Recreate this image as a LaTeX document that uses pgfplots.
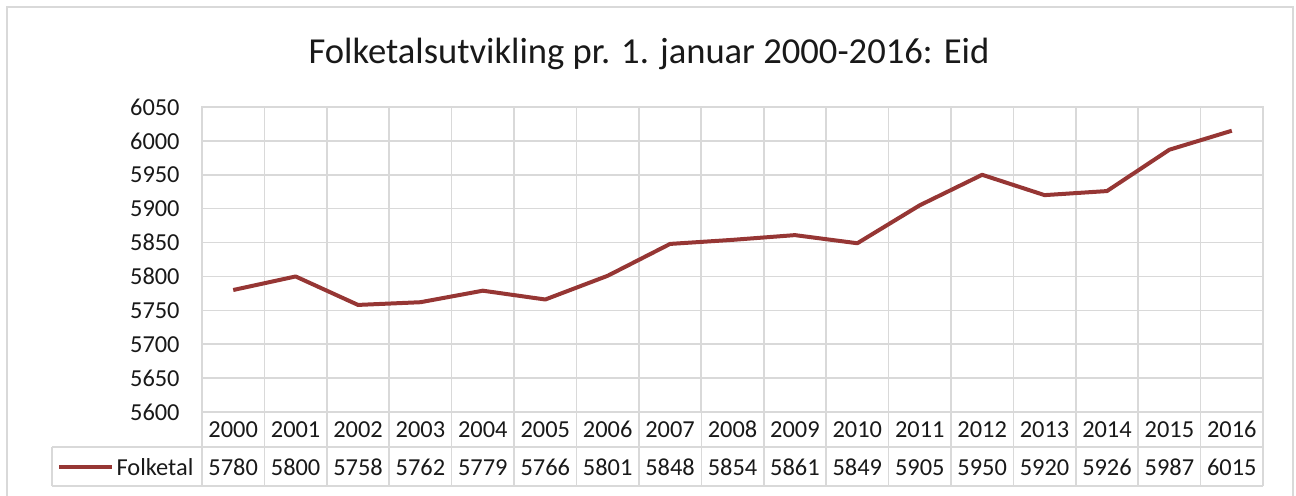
\documentclass[border=0pt]{standalone}
\usepackage{pgfplots}
\pgfplotsset{compat=1.18}
\usepackage{pgfplotstable}
\usepackage{fontspec}
\setmainfont{Carlito}
\definecolor{linered}{RGB}{150,54,52}
\definecolor{gridgray}{RGB}{217,217,217}
\definecolor{txt}{RGB}{25,25,25}
\pgfplotstableread{
idx year value
0 2000 5780
1 2001 5800
2 2002 5758
3 2003 5762
4 2004 5779
5 2005 5766
6 2006 5801
7 2007 5848
8 2008 5854
9 2009 5861
10 2010 5849
11 2011 5905
12 2012 5950
13 2013 5920
14 2014 5926
15 2015 5987
16 2016 6015
}\datatable
\begin{document}
\begin{tikzpicture}[x=0.5pt,y=-0.5pt]
\useasboundingbox (0,0) rectangle (1296,495);
\draw[gridgray, line width=1.2pt] (7,520) -- (7,7) -- (1293,7) -- (1293,520);
\node[anchor=base, font=\fontsize{18.3}{22}\selectfont, text=txt] at (649,63) {Folketalsutvikling pr. 1. januar 2000-2016: Eid};
\begin{axis}[
  at={(101pt,-206pt)}, anchor=south west,
  scale only axis, width=530.5pt, height=152.5pt,
  xmin=-0.5, xmax=16.5, ymin=5600, ymax=6050,
  ytick={5600,5650,...,6050},
  xtick={-0.5,0.5,...,16.5}, xticklabels={},
  major tick length=0pt,
  xmajorgrids, ymajorgrids,
  grid style={gridgray, line width=0.8pt},
  axis line style={gridgray, line width=0.8pt},
  /pgf/number format/1000 sep={},
  /pgf/number format/assume math mode=true,
  yticklabel style={font=\fontsize{12.2}{14}\selectfont, text=txt, anchor=east, inner sep=0pt, xshift=-11pt},
  clip=false,
]
\addplot[linered, line width=2pt, line join=round] table[x=idx, y=value] {\datatable};
\end{axis}
% data table
\draw[gridgray, line width=0.8pt] (52,447) -- (1263,447);
\draw[gridgray, line width=0.8pt] (52,486) -- (1263,486);
\draw[gridgray, line width=0.8pt] (52,447) -- (52,486);
\foreach \k in {0,...,17} {
  \draw[gridgray, line width=0.8pt] ({202+62.412*\k},412) -- ({202+62.412*\k},486);
}
\draw[linered, line width=2pt] (59,467) -- (112,467);
\node[anchor=base, font=\fontsize{12.2}{14}\selectfont, text=txt] at (155,475) {Folketal};
\foreach \i/\yr/\v in {0/2000/5780,1/2001/5800,2/2002/5758,3/2003/5762,4/2004/5779,5/2005/5766,6/2006/5801,7/2007/5848,8/2008/5854,9/2009/5861,10/2010/5849,11/2011/5905,12/2012/5950,13/2013/5920,14/2014/5926,15/2015/5987,16/2016/6015} {
  \node[anchor=base, font=\fontsize{12.2}{14}\selectfont, text=txt] at ({202+62.412*(\i+0.5)},437) {\yr};
  \node[anchor=base, font=\fontsize{12.2}{14}\selectfont, text=txt] at ({202+62.412*(\i+0.5)},475) {\v};
}
\end{tikzpicture}
\end{document}
